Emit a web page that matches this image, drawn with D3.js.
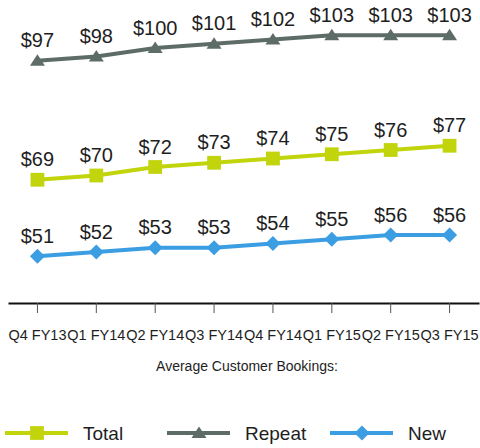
<!DOCTYPE html>
<html>
<head>
<meta charset="utf-8">
<script src="https://cdn.jsdelivr.net/npm/d3@7"></script>
<style>
  body { margin: 0; background: #fff; }
  svg { display: block; font-family: "Liberation Sans", Arial, sans-serif; }
</style>
</head>
<body>
<div id="chart1"></div>
<script>
// quarters along the x axis
const quarters = ["Q4 FY13", "Q1 FY14", "Q2 FY14", "Q3 FY14", "Q4 FY14", "Q1 FY15", "Q2 FY15", "Q3 FY15"];
// average bookings per customer ($)
const totalValues = [69, 70, 72, 73, 74, 75, 76, 77];
const repeatValues = [97, 98, 100, 101, 102, 103, 103, 103];
const newValues = [51, 52, 53, 53, 54, 55, 56, 56];
const seriesNames = ["Total", "Repeat", "New"];
const axisTitle = "Average Customer Bookings:";

function init() {
    var w = 480;
    var h = 448;
    var axisY = 303;

    var svg = d3.select("#chart1")
                .append("svg")
                .attr("width", w)
                .attr("height", h);

    var series = [
        {name: seriesNames[0], values: totalValues, color: "#c1d40c", marker: "square"},
        {name: seriesNames[1], values: repeatValues, color: "#5e6c67", marker: "triangle"},
        {name: seriesNames[2], values: newValues, color: "#3b9de2", marker: "diamond"}
    ];

    //x scale, one band per quarter
    var xScale = d3.scaleBand()
                .domain(quarters)
                .range([8, 479]);

    //y scale
    var yScale = d3.scaleLinear()
                .domain([40, 110])
                .range([axisY, axisY - 70 * 4.25]);

    var xPos = function(i) { return xScale(quarters[i]) + xScale.bandwidth() / 2; };

    var line = d3.line()
            .x(function(d, i) { return xPos(i); })
            .y(function(d) { return yScale(d); });

    //marker shapes (flat triangle, square diamond like the original)
    var markerPath = {
        square: function() { return d3.symbol().type(d3.symbolSquare).size(190)(); },
        triangle: function() { return "M-7.5,5L0,-6.5L7.5,5Z"; },
        diamond: function() { return "M0,-7.5L7.5,0L0,7.5L-7.5,0Z"; }
    };

    series.forEach(function(s) {
        svg.append("path")
            .datum(s.values)
            .attr("fill", "none")
            .attr("stroke", s.color)
            .attr("stroke-width", 4)
            .attr("d", line);

        svg.selectAll(null)
            .data(s.values)
            .enter()
            .append("path")
            .attr("transform", function(d, i) { return "translate(" + xPos(i) + "," + yScale(d) + ")"; })
            .attr("fill", s.color)
            .attr("d", markerPath[s.marker]());

        //value labels
        svg.selectAll(null)
            .data(s.values)
            .enter()
            .append("text")
            .attr("x", function(d, i) { return xPos(i); })
            .attr("y", function(d) { return yScale(d) - 13.5; })
            .attr("text-anchor", "middle")
            .attr("fill", "#1e1e1e")
            .style("font-size", "20px")
            .text(function(d) { return "$" + d; });
    });

    //x axis
    var xAxis = d3.axisBottom(xScale)
                .tickSizeInner(10)
                .tickSizeOuter(0)
                .tickPadding(17);

    var gx = svg.append("g")
        .attr("transform", "translate(0," + axisY + ")")
        .call(xAxis);
    gx.select(".domain").attr("stroke", "#111").attr("stroke-width", 2);
    gx.selectAll(".tick line").attr("stroke", "#555");
    gx.selectAll(".tick text")
        .attr("fill", "#1e1e1e")
        .style("font-size", "14.5px")
        .style("font-family", "Liberation Sans, Arial, sans-serif");

    // axis title
    svg.append("text")
        .attr("text-anchor", "middle")
        .attr("x", 247)
        .attr("y", 371)
        .attr("fill", "#1e1e1e")
        .style("font-size", "14px")
        .text(axisTitle);

    //legend
    var legendX = [5, 167, 330];
    var legend = svg.selectAll(".legend")
        .data(series)
        .enter()
        .append("g")
        .attr("class", "legend")
        .attr("transform", function(d, i) { return "translate(" + legendX[i] + ",433)"; });

    legend.append("line")
        .attr("x1", 0)
        .attr("x2", 63)
        .attr("stroke", function(d) { return d.color; })
        .attr("stroke-width", 4);

    legend.append("path")
        .attr("transform", "translate(32,0)")
        .attr("fill", function(d) { return d.color; })
        .attr("d", function(d) { return markerPath[d.marker](); });

    legend.append("text")
        .attr("x", 78)
        .attr("y", 7)
        .attr("fill", "#1e1e1e")
        .style("font-size", "19px")
        .text(function(d) { return d.name; });
}

window.onload = init();
</script>
</body>
</html>
